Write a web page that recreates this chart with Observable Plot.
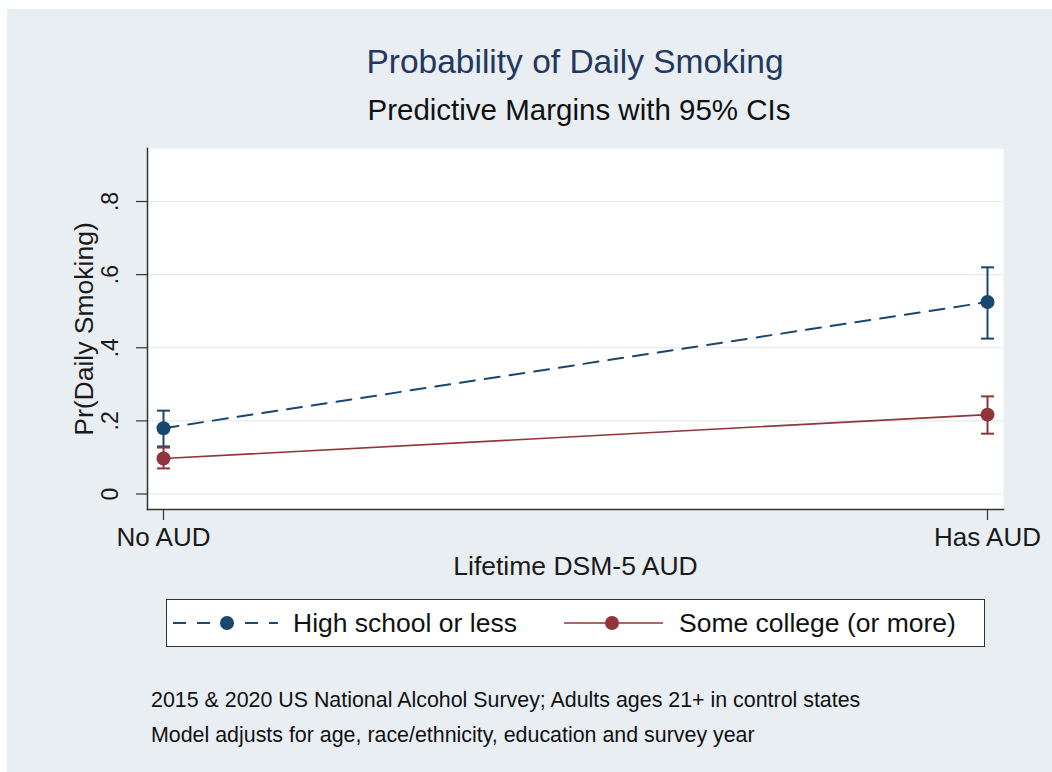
<!DOCTYPE html>
<html>
<head>
<meta charset="utf-8">
<script src="https://cdn.jsdelivr.net/npm/d3@7"></script>
<script src="https://cdn.jsdelivr.net/npm/@observablehq/plot@0.6"></script>
<style>
  html, body { margin: 0; padding: 0; background: #ffffff; }
  body { width: 1052px; height: 772px; position: relative; overflow: hidden;
         font-family: "Liberation Sans", Arial, sans-serif; color: #1a1a1a; }
  #panel { position: absolute; left: 7px; top: 9px; width: 1045px; height: 763px; background: #e8eef2; }
  .abs { position: absolute; white-space: nowrap; }
  #title { left: 147px; width: 856px; top: 45px; text-align: center; font-size: 33.5px; line-height: 1; color: #24375f; }
  #subtitle { left: 151px; width: 856px; top: 95px; text-align: center; font-size: 29.5px; line-height: 1; color: #111; }
  #chart { position: absolute; left: 0; top: 140px; }
  #legend { position: absolute; left: 166px; top: 599px; width: 817px; height: 46px;
            background: #fff; border: 1.5px solid #333; }
  #legend span { position: absolute; top: 0; line-height: 46px; font-size: 26.5px; color: #111; white-space: nowrap; }
  #legend svg { position: absolute; left: 0; top: 0; }
  .cap { left: 151px; font-size: 21.4px; line-height: 1; color: #111; }
</style>
</head>
<body>
<div id="panel"></div>
<div id="title" class="abs">Probability of Daily Smoking</div>
<div id="subtitle" class="abs">Predictive Margins with 95% CIs</div>
<div id="chart"></div>
<div id="legend"></div>
<div class="abs cap" style="top:690px">2015 &amp; 2020 US National Alcohol Survey; Adults ages 21+ in control states</div>
<div class="abs cap" style="top:725px">Model adjusts for age, race/ethnicity, education and survey year</div>
<script>
// ---- data ----
const audLevels = ["No AUD", "Has AUD"];
const seriesNames = ["High school or less", "Some college (or more)"];
const seriesColors = ["#1a476f", "#90353b"];
// High school or less: estimate, lower and upper 95% CI
const hsEst = [0.180, 0.525];
const hsLo  = [0.130, 0.425];
const hsHi  = [0.228, 0.620];
// Some college (or more)
const scEst = [0.097, 0.217];
const scLo  = [0.070, 0.165];
const scHi  = [0.127, 0.267];
// axis ticks
const yTicks = [0, 0.2, 0.4, 0.6, 0.8];
const yTickLabels = ["0", ".2", ".4", ".6", ".8"];
const xTitle = "Lifetime DSM-5 AUD";
const yTitle = "Pr(Daily Smoking)";

const rows = [];
audLevels.forEach((a, i) => {
  rows.push({aud: a, series: seriesNames[0], est: hsEst[i], lo: hsLo[i], hi: hsHi[i]});
  rows.push({aud: a, series: seriesNames[1], est: scEst[i], lo: scLo[i], hi: scHi[i]});
});

const capSymbol = {
  draw(context, size) {
    const r = Math.sqrt(size / Math.PI);
    context.moveTo(-r, 0);
    context.lineTo(r, 0);
  }
};

const font = "Liberation Sans, Arial, sans-serif";
const chart = Plot.plot({
  width: 1052,
  height: 460,
  marginLeft: 147,
  marginRight: 49,
  marginTop: 8,
  marginBottom: 91,
  style: {background: "transparent", fontFamily: font, color: "#1a1a1a"},
  x: {type: "point", domain: audLevels, padding: 0.019, axis: null, label: null},
  y: {domain: [-0.0424, 0.945], axis: null, label: null},
  color: {domain: seriesNames, range: seriesColors},
  marks: [
    Plot.frame({fill: "white", stroke: null}),
    Plot.gridY(yTicks, {stroke: "#e4eaee", strokeOpacity: 1, strokeWidth: 1.2}),
    Plot.frame({anchor: "left", stroke: "#333", strokeWidth: 1.5}),
    Plot.frame({anchor: "bottom", stroke: "#333", strokeWidth: 1.5}),
    Plot.axisY(yTicks, {tickSize: 11, tickFormat: () => "", stroke: "#333", strokeWidth: 1.2, label: null}),
    Plot.text(yTicks, {y: d => d, text: (d, i) => yTickLabels[i], frameAnchor: "left", dx: -30,
      rotate: -90, lineAnchor: "bottom", textAnchor: "middle", fontSize: 23, fill: "#1a1a1a"}),
    Plot.axisX({tickSize: 11, tickPadding: 7, fontSize: 26, stroke: "#333", strokeWidth: 1.2, label: null, fill: "#1a1a1a"}),
    Plot.text([yTitle], {text: d => d, frameAnchor: "left", dx: -55, rotate: -90, lineAnchor: "bottom",
      textAnchor: "middle", fontSize: 26.5, fill: "#1a1a1a"}),
    Plot.text([xTitle], {text: d => d, frameAnchor: "bottom", dy: 57, lineAnchor: "middle",
      textAnchor: "middle", fontSize: 26.5, fill: "#1a1a1a"}),
    Plot.line(rows.filter(d => d.series === seriesNames[0]), {x: "aud", y: "est", stroke: "series",
      strokeWidth: 2, strokeDasharray: "15,10"}),
    Plot.line(rows.filter(d => d.series === seriesNames[1]), {x: "aud", y: "est", stroke: "series",
      strokeWidth: 1.6}),
    Plot.ruleX(rows, {x: "aud", y1: "lo", y2: "hi", stroke: "series", strokeWidth: 2}),
    Plot.dot(rows, {x: "aud", y: "lo", symbol: capSymbol, r: 6.5, stroke: "series", strokeWidth: 2, fill: "none"}),
    Plot.dot(rows, {x: "aud", y: "hi", symbol: capSymbol, r: 6.5, stroke: "series", strokeWidth: 2, fill: "none"}),
    Plot.dot(rows, {x: "aud", y: "est", fill: "series", r: 7, stroke: null})
  ]
});
document.getElementById("chart").appendChild(chart);

// ---- legend ----
const legend = document.getElementById("legend");
const ns = "http://www.w3.org/2000/svg";
const lsvg = document.createElementNS(ns, "svg");
lsvg.setAttribute("width", 817);
lsvg.setAttribute("height", 46);
legend.appendChild(lsvg);
const legendItems = [
  {x0: 6, x1: 111, dot: 60, text: 126, dash: "13,11", width: 2},
  {x0: 397, x1: 496, dot: 445, text: 512, dash: null, width: 1.6}
];
legendItems.forEach((it, i) => {
  const ln = document.createElementNS(ns, "line");
  ln.setAttribute("x1", it.x0); ln.setAttribute("x2", it.x1);
  ln.setAttribute("y1", 23); ln.setAttribute("y2", 23);
  ln.setAttribute("stroke", seriesColors[i]);
  ln.setAttribute("stroke-width", it.width);
  if (it.dash) ln.setAttribute("stroke-dasharray", it.dash);
  lsvg.appendChild(ln);
  const c = document.createElementNS(ns, "circle");
  c.setAttribute("cx", it.dot); c.setAttribute("cy", 23); c.setAttribute("r", 7);
  c.setAttribute("fill", seriesColors[i]);
  lsvg.appendChild(c);
  const s = document.createElement("span");
  s.textContent = seriesNames[i];
  s.style.left = it.text + "px";
  legend.appendChild(s);
});
</script>
</body>
</html>
